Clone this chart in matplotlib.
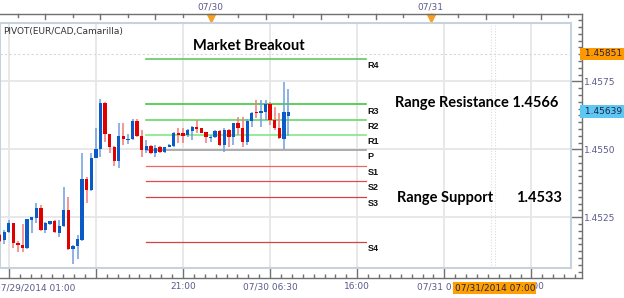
import numpy as np
import pandas as pd
import matplotlib
matplotlib.use("Agg")
import matplotlib.pyplot as plt
import matplotlib.ticker as mticker
import matplotlib.transforms as mtrans

# ---------------------------------------------------------
# Data: EUR/CAD 30-minute candles, 07/29/2014 01:00 onwards
# ---------------------------------------------------------
start_time = "2014-07-29 01:00"

opens = [1.45185, 1.45166, 1.45195, 1.45228, 1.45156, 1.45148, 1.45136, 1.45240,
         1.45248, 1.45283, 1.45203, 1.45225, 1.45237, 1.45193, 1.45218, 1.45277,
         1.45132, 1.45144, 1.45166, 1.45390, 1.45350, 1.45467, 1.45500, 1.45669,
         1.45556, 1.45510, 1.45458, 1.45549, 1.45534, 1.45539, 1.45605, 1.45549,
         1.45497, 1.45512, 1.45487, 1.45510, 1.45491, 1.45510, 1.45512, 1.45561,
         1.45559, 1.45553, 1.45568, 1.45581, 1.45577, 1.45565, 1.45540, 1.45544,
         1.45568, 1.45516, 1.45571, 1.45546, 1.45598, 1.45577, 1.45528, 1.45605,
         1.45638, 1.45635, 1.45638, 1.45666, 1.45608, 1.45577, 1.45537, 1.45623]
closes = [1.45163, 1.45195, 1.45228, 1.45156, 1.45147, 1.45136, 1.45244, 1.45250,
          1.45283, 1.45203, 1.45228, 1.45236, 1.45195, 1.45218, 1.45277, 1.45132,
          1.45144, 1.45169, 1.45390, 1.45350, 1.45467, 1.45500, 1.45669, 1.45556,
          1.45510, 1.45458, 1.45549, 1.45537, 1.45539, 1.45605, 1.45549, 1.45497,
          1.45512, 1.45487, 1.45506, 1.45491, 1.45510, 1.45516, 1.45561, 1.45553,
          1.45549, 1.45571, 1.45583, 1.45574, 1.45561, 1.45544, 1.45546, 1.45568,
          1.45516, 1.45571, 1.45544, 1.45598, 1.45577, 1.45528, 1.45605, 1.45635,
          1.45632, 1.45641, 1.45666, 1.45608, 1.45577, 1.45540, 1.45638, 1.45639]
highs = [1.45188, 1.45203, 1.45240, 1.45230, 1.45163, 1.45225, 1.45245, 1.45252,
         1.45301, 1.45295, 1.45234, 1.45238, 1.45240, 1.45240, 1.45360, 1.45323,
         1.45148, 1.45185, 1.45487, 1.45397, 1.45487, 1.45577, 1.45684, 1.45675,
         1.45556, 1.45512, 1.45596, 1.45596, 1.45556, 1.45610, 1.45610, 1.45571,
         1.45534, 1.45516, 1.45516, 1.45512, 1.45510, 1.45520, 1.45565, 1.45577,
         1.45577, 1.45574, 1.45586, 1.45608, 1.45580, 1.45565, 1.45553, 1.45571,
         1.45571, 1.45577, 1.45574, 1.45598, 1.45620, 1.45620, 1.45610, 1.45638,
         1.45681, 1.45681, 1.45681, 1.45675, 1.45657, 1.45632, 1.45749, 1.45721]
lows = [1.45159, 1.45152, 1.45191, 1.45136, 1.45123, 1.45123, 1.45133, 1.45193,
        1.45228, 1.45200, 1.45191, 1.45223, 1.45191, 1.45178, 1.45213, 1.45129,
        1.45077, 1.45095, 1.45163, 1.45301, 1.45348, 1.45473, 1.45473, 1.45528,
        1.45487, 1.45440, 1.45430, 1.45516, 1.45520, 1.45534, 1.45546, 1.45473,
        1.45485, 1.45483, 1.45473, 1.45487, 1.45487, 1.45508, 1.45510, 1.45522,
        1.45524, 1.45546, 1.45534, 1.45559, 1.45559, 1.45522, 1.45528, 1.45542,
        1.45513, 1.45491, 1.45510, 1.45516, 1.45553, 1.45510, 1.45516, 1.45583,
        1.45614, 1.45583, 1.45608, 1.45589, 1.45571, 1.45537, 1.45500, 1.45549]

# Camarilla pivot levels
pivot_names = ["R4", "R3", "R2", "R1", "P", "S1", "S2", "S3", "S4"]
pivot_values = [1.45832, 1.45665, 1.45609, 1.45553, 1.45497, 1.45440, 1.45382, 1.45326, 1.45158]
pivot_colors = ["#62c862", "#40c840", "#66d866", "#84e884", "#a0a0a0",
                "#f06464", "#e04c4c", "#d84040", "#d04444"]
pivot_start = "2014-07-29 17:00"
pivot_end = "2014-07-30 17:00"

last_price = 1.45639
marker_price = 1.45851
price_ticks = [1.4525, 1.4550, 1.4575]

bottom_ticks = ["2014-07-29 02:00", "2014-07-29 11:30", "2014-07-29 21:00", "2014-07-30 06:30",
                "2014-07-30 16:00", "2014-07-31 01:30", "2014-07-31 11:00"]
bottom_labels = ["", "", "21:00", "07/30 06:30", "16:00", "07/31 01:30", "11:00"]
day_marks = ["2014-07-30 00:00", "2014-07-31 00:00"]
day_labels = ["07/30", "07/31"]
cursor_time = "2014-07-31 07:00"

# hours relative to 07/30 00:00
ref = pd.Timestamp("2014-07-30")


def hrs(t):
    return (pd.to_datetime(t) - ref) / pd.Timedelta(hours=1)


times = pd.date_range(start_time, periods=len(opens), freq="30min")
x = np.asarray(hrs(times), dtype=float)
o = np.array(opens); c = np.array(closes); hi = np.array(highs); lo = np.array(lows)
up = c >= o

axis_col = "#5a5a8c"
W, H = 624, 298
fig = plt.figure(figsize=(W / 100, H / 100), dpi=100)
fig.patch.set_facecolor("white")

# outer axes: time / price scales
ax2 = fig.add_axes([0, 20 / H, 582 / W, 264 / H])
ax2.set_xlim(-22.955, 40.51)
ax2.set_ylim(1.450264, 1.459979)
ax2.set_facecolor("white")
for s in ["top", "bottom", "right"]:
    ax2.spines[s].set_color("#707070")
    ax2.spines[s].set_linewidth(1)
ax2.spines["left"].set_visible(False)
ax2.yaxis.tick_right()
ax2.yaxis.set_major_locator(mticker.FixedLocator(price_ticks))
ax2.yaxis.set_minor_locator(mticker.MultipleLocator(0.00025))
ax2.yaxis.set_major_formatter(mticker.FormatStrFormatter("%.4f"))
ax2.tick_params(axis="y", which="major", direction="in", length=10, width=1, color="#707070",
                labelsize=6.5, labelcolor=axis_col, pad=1.5)
ax2.tick_params(axis="y", which="minor", direction="in", length=3, width=1, color="#707070")
ax2.xaxis.set_major_locator(mticker.FixedLocator(hrs(bottom_ticks)))
ax2.xaxis.set_minor_locator(mticker.FixedLocator(np.arange(-22, 41, 1.1875)))
ax2.set_xticklabels(bottom_labels)
ax2.tick_params(axis="x", which="major", direction="in", length=8, width=1, color="#707070",
                labelsize=6.5, labelcolor=axis_col, pad=3, top=True)
ax2.tick_params(axis="x", which="minor", direction="in", length=3, width=1, color="#707070",
                top=False)
ax2.tick_params(axis="x", which="major", top=False)

# top scale ticks (every 3 hours)
blend_top = mtrans.blended_transform_factory(ax2.transData, ax2.transAxes)
top_ticks = np.arange(-21, 40, 3)
for t in top_ticks:
    ln = 5 if t % 6 == 0 else 3
    ax2.plot([t, t], [1, 1 - ln / 264], color="#707070", lw=1, transform=blend_top, clip_on=False)
for t, lab in zip(day_marks, day_labels):
    ax2.text(hrs(t), 1 + 7 / 264, lab, transform=blend_top, ha="center", va="center",
             fontsize=6.5, color=axis_col)
    ax2.plot([hrs(t)], [1 - 3.5 / 264], marker="v", ms=5.5, color="#f5a020", mec="#f5a020",
             transform=blend_top, clip_on=False)

blend_bot = mtrans.blended_transform_factory(ax2.transData, ax2.transAxes)
ax2.text(-23.5, -10 / 264, "07/29/2014 01:00", transform=blend_bot, ha="left", va="center",
         fontsize=6.5, color=axis_col)
ax2.text(hrs(cursor_time), -10 / 264, "07/31/2014 07:00", transform=blend_bot, ha="center",
         va="center", fontsize=6.5, color="#222244", zorder=10,
         bbox=dict(boxstyle="square,pad=0.15", fc="#ffa000", ec="none"))

blend_r = mtrans.blended_transform_factory(ax2.transAxes, ax2.transData)
ax2.text(1.0, marker_price, " 1.45851", transform=blend_r, ha="left", va="center",
         fontsize=6.5, color="#222244", bbox=dict(boxstyle="square,pad=0.2", fc="#ff9900", ec="none"))
ax2.text(1.0, last_price, " 1.45639", transform=blend_r, ha="left", va="center",
         fontsize=6.5, color="#222244", bbox=dict(boxstyle="square,pad=0.2", fc="#5ec8f5", ec="none"))

# inner chart area
ax = fig.add_axes([0, 30 / H, 571 / W, 245 / H])
ax.set_xlim(-22.955, 39.31)
ax.set_ylim(1.450632, 1.459648)
ax.set_facecolor("white")
for s in ax.spines.values():
    s.set_color("#c8d2de")
    s.set_linewidth(1.5)
ax.set_xticks([]); ax.set_yticks([])

for t in hrs(bottom_ticks):
    ax.axvline(t, color="#e6e6e6", lw=1.3, zorder=0)
for p in price_ticks:
    ax.axhline(p, color="#e6e6e6", lw=1.3, zorder=0)
ax.axhline(marker_price, color="#d8d8d8", lw=0.8, ls=(0, (2, 2)), zorder=0)
ax.axvline(hrs(cursor_time) - 0.4, color="#dcdcdc", lw=0.8, ls=(0, (1, 1.5)), zorder=0)
ax.axvline(hrs(cursor_time), color="#dcdcdc", lw=0.8, ls=(0, (1, 1.5)), zorder=0)

# pivot lines
x0, x1 = hrs(pivot_start), hrs(pivot_end)
for name, val, col in zip(pivot_names, pivot_values, pivot_colors):
    lw = 1.2 if name.startswith("R") or name == "P" else 0.9
    ax.plot([x0, x1], [val, val], color=col, lw=lw, zorder=2)
    ax.annotate(name, (x1, val), xytext=(1, -1.5), textcoords="offset points", ha="left",
                va="top", fontsize=6.5, fontweight="bold", family="Liberation Sans", color="#111111")

# candles
wick_col = np.where(up, "#6f9ede", "#f07a7a")
body_col = np.where(up, "#0a5ac8", "#e00000")
ax.vlines(x, lo, hi, colors=wick_col, lw=1.1, zorder=3)
body_h = np.maximum(np.abs(c - o), 0.000015)
ax.bar(x, body_h, bottom=np.minimum(o, c), width=0.36, color=body_col, lw=0, zorder=4)

# annotations
ax.text(4.2, 1.45880, "Market Breakout", ha="center", va="center", fontsize=10.5,
        fontweight="bold", family="Lato", color="black", zorder=6)
ax.text(20.1, 1.45670, "Range Resistance 1.4566", ha="left", va="center", fontsize=10.5,
        fontweight="bold", family="Lato", color="black", zorder=6)
ax.text(20.3, 1.45321, "Range Support", ha="left", va="center", fontsize=10.5,
        fontweight="bold", family="Lato", color="black", zorder=6)
ax.text(33.3, 1.45321, "1.4533", ha="left", va="center", fontsize=10.5,
        fontweight="bold", family="Lato", color="black", zorder=6)
ax.text(0.005, 0.965, "PIVOT(EUR/CAD,Camarilla)", transform=ax.transAxes, ha="left", va="center",
        fontsize=6.5, color="#333333")

fig.savefig("out.png", dpi=100)
